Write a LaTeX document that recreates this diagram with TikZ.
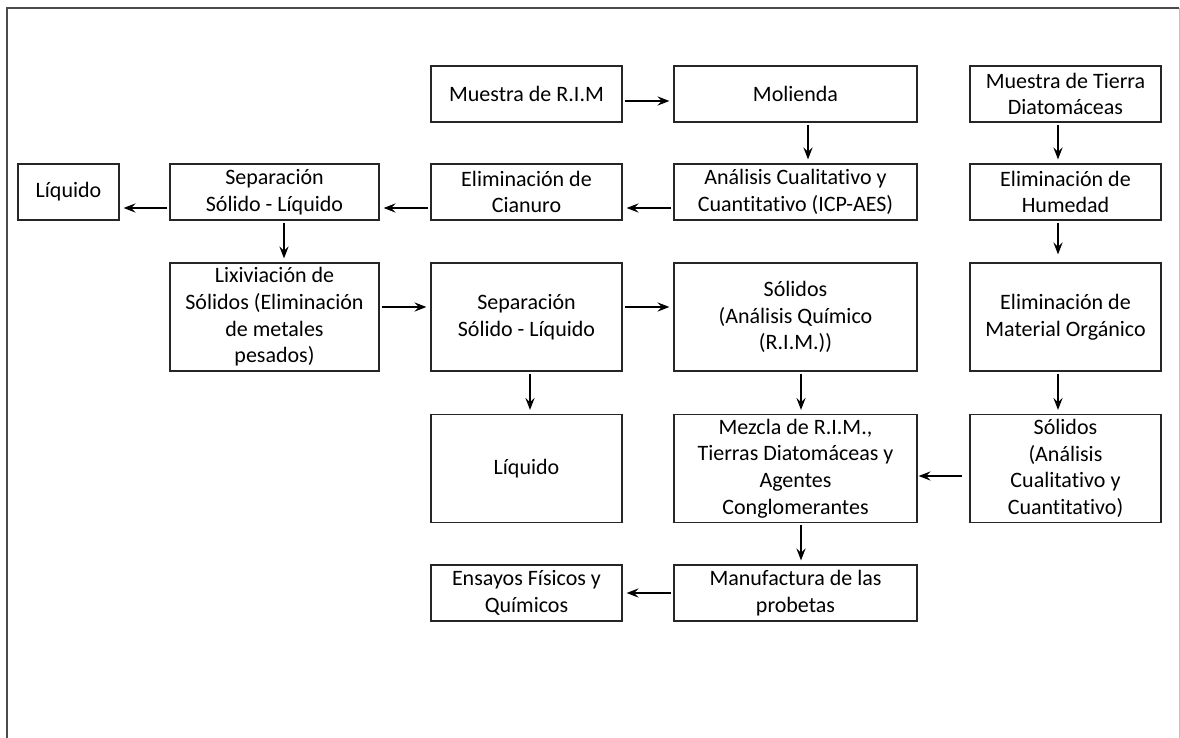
\documentclass[tikz,border=0pt]{standalone}
\usepackage{fontspec}
\setmainfont[Ligatures=NoCommon]{Carlito}
\usetikzlibrary{arrows.meta}

\begin{document}
\begin{tikzpicture}[x=0.5pt,y=-0.5pt,
    box/.style={draw=black!85,line width=0.6pt,align=center,inner sep=0pt,
        font=\fontsize{11}{13.3}\selectfont},
    tiny/.style={minimum width=50.5pt},
    narrow/.style={minimum width=95.5pt},
    medium/.style={minimum width=104.5pt},
    wide/.style={minimum width=121.5pt},
    low/.style={minimum height=28pt},
    tall/.style={minimum height=54pt},
    arr/.style={-{Stealth[length=6pt,width=4.6pt,inset=2.2pt]},line width=0.6pt,
        shorten <=1pt,shorten >=2pt}]

    % Fix the size of the page
    \useasboundingbox (0,0) rectangle (1180,738);

    % Outer frame (open at the bottom)
    \draw[black!70,line width=0.75pt] (7,738) -- (7,8) -- (1179,8);
    \draw[black!25,line width=0.5pt] (1179,8) -- (1179,738);

    % First row
    \node[box,narrow,low] (MuestraRIM) at (526.5,94) {Muestra de R.I.M};
    \node[box,wide,low] (Molienda) at (795.5,94) {Molienda};
    \node[box,narrow,low] (MuestraTierra) at (1065.5,94) {Muestra de Tierra\\Diatomáceas};

    % Second row
    \node[box,tiny,low] (LiquidoA) at (68.5,192) {Líquido};
    \node[box,medium,low] (SeparacionA) at (274.5,192) {Separación\\Sólido - Líquido};
    \node[box,narrow,low] (Cianuro) at (526.5,192) {Eliminación de\\Cianuro};
    \node[box,wide,low] (Analisis) at (795.5,192) {Análisis Cualitativo y\\Cuantitativo (ICP-AES)};
    \node[box,narrow,low] (Humedad) at (1065.5,192) {Eliminación de\\Humedad};

    % Third row
    \node[box,medium,tall] (Lixiviacion) at (274.5,317) {Lixiviación de\\Sólidos (Eliminación\\de metales\\pesados)};
    \node[box,narrow,tall] (SeparacionB) at (526.5,317) {Separación\\Sólido - Líquido};
    \node[box,wide,tall] (SolidosRIM) at (795.5,317) {Sólidos\\(Análisis Químico\\(R.I.M.))};
    \node[box,narrow,tall] (Organico) at (1065.5,317) {Eliminación de\\Material Orgánico};

    % Fourth row
    \node[box,narrow,tall] (LiquidoB) at (526.5,468.5) {Líquido};
    \node[box,wide,tall] (Mezcla) at (795.5,468.5) {Mezcla de R.I.M.,\\Tierras Diatomáceas y\\Agentes\\Conglomerantes};
    \node[box,narrow,tall] (SolidosTierra) at (1065.5,468.5) {Sólidos\\(Análisis\\Cualitativo y\\Cuantitativo)};

    % Fifth row
    \node[box,narrow,low] (Ensayos) at (526.5,593) {Ensayos Físicos y\\Químicos};
    \node[box,wide,low] (Manufactura) at (795.5,593) {Manufactura de las\\probetas};

    % Arrows of the R.I.M branch
    \draw[arr] ([yshift=-3.5pt]MuestraRIM.east) -- ([yshift=-3.5pt]Molienda.west);
    \draw[arr] ([xshift=6.25pt]Molienda.south) -- ([xshift=6.25pt]Analisis.north);
    \draw[arr] ([yshift=-8pt]Analisis.west) -- ([yshift=-8pt]Cianuro.east);
    \draw[arr] ([yshift=-8pt]Cianuro.west) -- ([yshift=-8pt]SeparacionA.east);
    \draw[arr] ([yshift=-8pt]SeparacionA.west) -- ([yshift=-8pt]LiquidoA.east);
    \draw[arr] ([xshift=4.75pt]SeparacionA.south) -- ([xshift=4.75pt]Lixiviacion.north);
    \draw[arr] ([yshift=5pt]Lixiviacion.east) -- ([yshift=5pt]SeparacionB.west);
    \draw[arr] ([yshift=5pt]SeparacionB.east) -- ([yshift=5pt]SolidosRIM.west);
    \draw[arr] ([xshift=1.75pt]SeparacionB.south) -- ([xshift=1.75pt]LiquidoB.north);
    \draw[arr] ([xshift=2.75pt]SolidosRIM.south) -- ([xshift=2.75pt]Mezcla.north);

    % Arrows of the diatomaceous earth branch
    \draw[arr] ([xshift=-3.75pt]MuestraTierra.south) -- ([xshift=-3.75pt]Humedad.north);
    \draw[arr,shorten >=4pt] ([xshift=-3.75pt]Humedad.south) -- ([xshift=-3.75pt]Organico.north);
    \draw[arr] ([xshift=-3.75pt]Organico.south) -- ([xshift=-3.75pt]SolidosTierra.north);
    \draw[arr,shorten <=3.5pt,shorten >=0.5pt] ([yshift=-3.75pt]SolidosTierra.west) -- ([yshift=-3.75pt]Mezcla.east);

    % Final steps
    \draw[arr] ([xshift=2.75pt]Mezcla.south) -- ([xshift=2.75pt]Manufactura.north);
    \draw[arr] (Manufactura.west) -- (Ensayos.east);

\end{tikzpicture}
\end{document}
